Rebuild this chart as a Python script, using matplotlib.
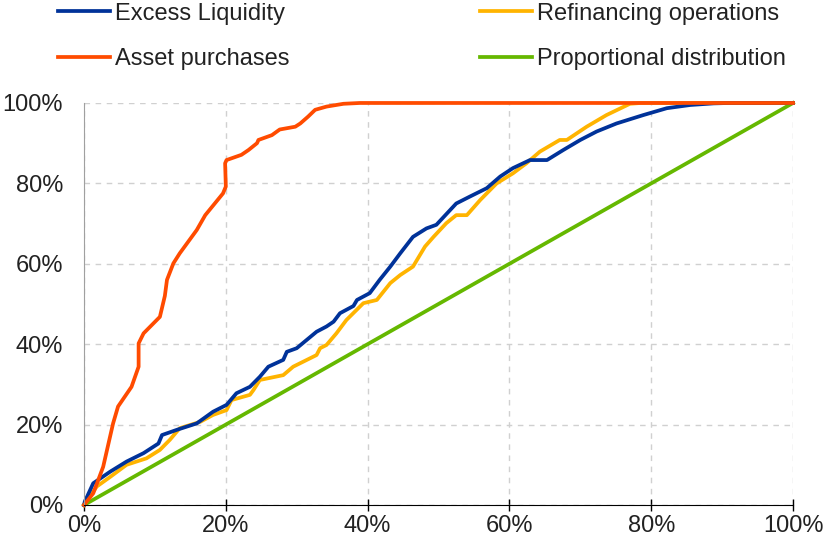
import matplotlib.pyplot as plt
from matplotlib.ticker import PercentFormatter

plt.rcParams['font.family'] = ['Liberation Sans', 'DejaVu Sans']

# cumulative share (x, y in %)
asset_x = [0, 1.3, 2.7, 4.1, 4.8, 6.7, 7.7, 7.7, 8.4, 10.7, 11.4, 11.7, 12.6, 13.5, 15.9, 17.1,
           19.6, 20.0, 19.9, 20.1, 22.2, 23.2, 24.4, 24.6, 26.5, 27.6, 29.8, 30.5, 31.6, 32.6,
           34.2, 36.6, 38.9, 100]
asset_y = [0, 2.9, 9.5, 20.3, 24.5, 29.4, 34.4, 40.2, 42.7, 46.8, 52, 56, 60.1, 62.6, 68.4, 72.1,
           77.5, 79.2, 85, 85.8, 87.1, 88.3, 90, 90.8, 92, 93.4, 94.1, 94.9, 96.6, 98.3,
           99.1, 99.8, 100, 100]

excess_x = [0, 0.1, 1.3, 3.7, 6.0, 8.4, 10.5, 11.0, 13.1, 15.9, 18.2, 20.1, 21.5, 23.4, 24.8,
            26.0, 28.1, 28.6, 30.0, 32.8, 34.2, 35.2, 36.1, 38.0, 38.5, 40.3, 41.7, 43.2, 44.6,
            46.4, 48.3, 49.7, 52.5, 54.4, 56.8, 58.7, 60.5, 62.9, 65.3, 67.6, 70.0, 72.3, 75.1,
            78.9, 82.2, 85.5, 88.8, 91, 100]
excess_y = [0, 0.8, 5.4, 8.3, 10.8, 12.9, 15.3, 17.4, 18.7, 20.3, 23.2, 24.9, 27.8, 29.4, 31.9,
            34.4, 36.1, 38.1, 39, 43.1, 44.4, 45.6, 47.7, 49.5, 51, 52.7, 56, 59.3, 62.6,
            66.7, 68.8, 69.7, 75, 76.7, 78.8, 81.7, 83.8, 85.8, 85.8, 88.3, 90.8, 92.9, 94.9,
            97, 98.7, 99.5, 99.9, 100, 100]

refi_x = [0, 1.8, 3.7, 6.0, 8.8, 10.7, 12.1, 13.5, 16.4, 18.2, 20.1, 20.8, 23.4, 23.9, 24.8,
          28.1, 29.5, 32.8, 33.3, 34.2, 35.6, 37.0, 39.4, 41.3, 43.2, 44.6, 46.4, 48.1, 49.3,
          51.1, 52.5, 54.0, 55.9, 58.2, 60.5, 62.4, 64.3, 67.1, 68.1, 70.9, 73.7, 77.0, 78.5, 100]
refi_y = [0, 4.6, 7, 10, 11.6, 13.7, 16.2, 19.1, 20.7, 22.4, 23.6, 26.1, 27.4, 28.6, 31.1,
          32.3, 34.4, 37.3, 39, 39.8, 42.7, 46, 50.2, 51, 55.2, 57.2, 59.3, 64.3, 66.7,
          70.1, 72.1, 72.1, 75.9, 80, 82.5, 85, 87.9, 90.8, 90.8, 94.1, 97, 99.8, 100, 100]

prop_x = [0, 100]
prop_y = [0, 100]

fig = plt.figure(figsize=(8.27, 5.46), dpi=100)
ax = fig.add_axes([0.1016, 0.0751, 0.8573, 0.7363])

lw = 2.7
l_prop, = ax.plot(prop_x, prop_y, color='#65B800', lw=lw, label='Proportional distribution', clip_on=False)
l_refi, = ax.plot(refi_x, refi_y, color='#FFB400', lw=lw, label='Refinancing operations', clip_on=False)
l_exc, = ax.plot(excess_x, excess_y, color='#003299', lw=lw, label='Excess Liquidity', clip_on=False)
l_ast, = ax.plot(asset_x, asset_y, color='#FF4B00', lw=lw, label='Asset purchases', clip_on=False)

ax.set_xlim(0, 100)
ax.set_ylim(0, 100)
ax.set_xticks(range(0, 101, 20))
ax.set_yticks(range(0, 101, 20))
ax.xaxis.set_major_formatter(PercentFormatter(decimals=0))
ax.yaxis.set_major_formatter(PercentFormatter(decimals=0))
ax.grid(True, color='#d0d0d0', linestyle=(0, (4, 4)), linewidth=1)
ax.set_axisbelow(True)

for s in ['top', 'right']:
    ax.spines[s].set_visible(False)
ax.spines['left'].set_color('#a0a0a0')
ax.spines['bottom'].set_color('black')
ax.tick_params(axis='x', direction='inout', length=9, width=1, pad=3, labelsize=17, labelcolor='#222222')
ax.tick_params(axis='y', length=0, pad=15, labelsize=17, labelcolor='#222222')

fig.legend([l_exc, l_ast, l_refi, l_prop],
           ['Excess Liquidity', 'Asset purchases', 'Refinancing operations', 'Proportional distribution'],
           ncol=2, loc='upper left', bbox_to_anchor=(58 / 827, 0.995), frameon=False,
           fontsize=17, handlelength=2.2, handletextpad=0.2, columnspacing=8.1,
           labelspacing=1.0, borderpad=0, borderaxespad=0, labelcolor='#222222')

fig.savefig('out.png', dpi=100)
